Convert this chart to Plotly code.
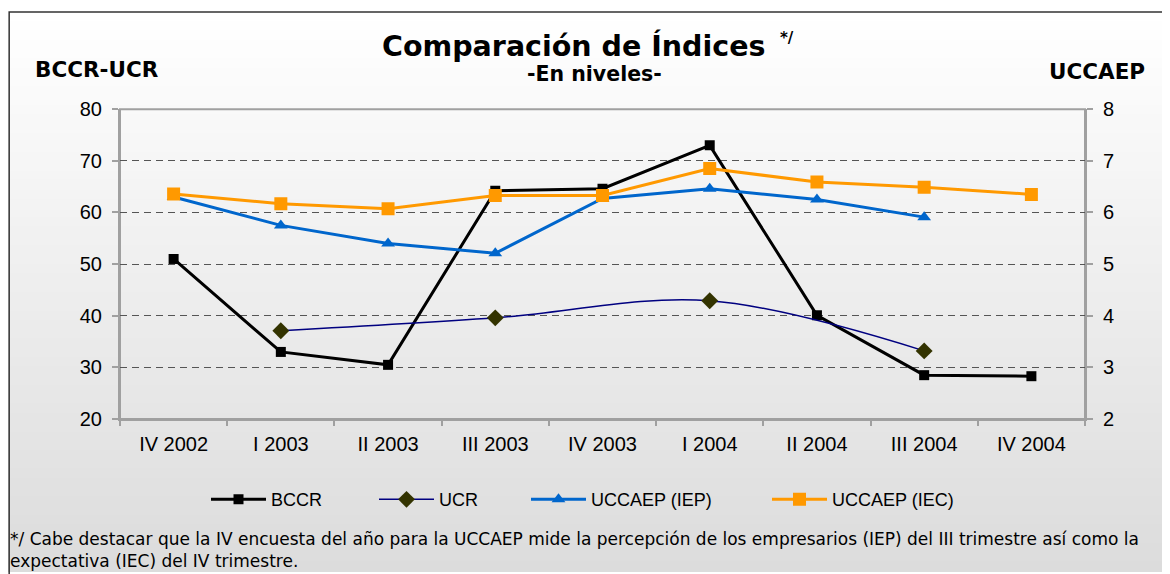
import plotly.graph_objects as go

categories = ["IV 2002", "I 2003", "II 2003", "III 2003", "IV 2003",
              "I 2004", "II 2004", "III 2004", "IV 2004"]
bccr = [51.0, 33.0, 30.5, 64.2, 64.6, 73.0, 40.1, 28.5, 28.3]
ucr = [None, 37.1, None, 39.6, None, 42.9, None, 33.2, None]
uccaep_iep = [6.30, 5.75, 5.40, 5.21, 6.27, 6.46, 6.25, 5.91, None]
uccaep_iec = [6.36, 6.17, 6.07, 6.33, 6.33, 6.85, 6.59, 6.49, 6.35]
left_ticks = [20, 30, 40, 50, 60, 70, 80]
right_ticks = [2, 3, 4, 5, 6, 7, 8]

W, H = 1170, 574
# empirical placement of the figure inside the photographed page
OX, OY, PH = 6, 17, 557


def px(x):
    return (x - OX) / W


def py(y):
    return 1 - (y - OY) / PH


X0, X1 = 118, 1083
Y0, Y1 = 108, 420.7

fig = go.Figure()

fig.add_trace(go.Scatter(x=categories, y=bccr, name="BCCR", mode="lines+markers",
                         legend="legend",
                         line=dict(color="black", width=3),
                         marker=dict(symbol="square", size=10, color="black")))
fig.add_trace(go.Scatter(x=categories, y=ucr, name="UCR", mode="lines+markers",
                         legend="legend2",
                         connectgaps=True, line=dict(color="#000080", width=1.5, shape="spline"),
                         marker=dict(symbol="diamond", size=13, color="#333300")))
fig.add_trace(go.Scatter(x=categories, y=uccaep_iep, name="UCCAEP (IEP)", mode="lines+markers",
                         legend="legend3",
                         yaxis="y2", line=dict(color="#0066CC", width=3),
                         marker=dict(symbol="triangle-up", size=12, color="#0066CC")))
fig.add_trace(go.Scatter(x=categories, y=uccaep_iec, name="UCCAEP (IEC)", mode="lines+markers",
                         legend="legend4",
                         yaxis="y2", line=dict(color="#FF9900", width=3),
                         marker=dict(symbol="square", size=13, color="#FF9900")))

# background gradient bands
shapes = []
n = 60
top, bot = 10, H
for i in range(n):
    ya = top + (bot - top) * i / n
    yb = top + (bot - top) * (i + 1) / n + 1
    t = i / (n - 1)
    c = int(round(255 - t * (255 - 220)))
    shapes.append(dict(type="rect", xref="paper", yref="paper",
                       x0=max(px(5), 0), x1=px(1168), y0=py(yb), y1=py(ya),
                       fillcolor=f"rgb({c},{c},{c})", line=dict(width=0), layer="below"))
# outer border
shapes.append(dict(type="rect", xref="paper", yref="paper",
                   x0=max(px(6), 0.001), x1=px(1168), y0=-0.01, y1=py(10),
                   line=dict(color="#333333", width=1.5), layer="above"))
# plot area border
shapes.append(dict(type="rect", xref="paper", yref="paper",
                   x0=px(X0), x1=px(X1), y0=py(Y1), y1=py(Y0),
                   line=dict(color="#a0a0a0", width=2), layer="below"))


def legend_at(text_start):
    return dict(orientation="h", x=px(text_start - 69), xanchor="left",
                y=py(502), yanchor="middle", itemwidth=55,
                font=dict(family="Liberation Sans, Arial", size=18, color="black"),
                bgcolor="rgba(0,0,0,0)")


font_axis = dict(family="Liberation Sans, Arial", size=20, color="black")
fig.update_layout(
    width=W, height=H,
    margin=dict(l=0, r=0, t=0, b=0),
    paper_bgcolor="white",
    plot_bgcolor="rgba(0,0,0,0)",
    shapes=shapes,
    showlegend=True,
    legend=legend_at(273),
    legend2=legend_at(441),
    legend3=legend_at(593),
    legend4=legend_at(834),
    xaxis=dict(domain=[px(X0), px(X1)], type="category", range=[-0.5, 8.5],
               showgrid=False, showline=True, linecolor="#a0a0a0", linewidth=2,
               ticks="outside", ticklen=5, tickcolor="#a0a0a0", tickwidth=1.5,
               tickson="boundaries", tickfont=font_axis, ticklabelstandoff=6, anchor="y"),
    yaxis=dict(domain=[py(Y1), py(Y0)], range=[20, 80], tickvals=left_ticks,
               showgrid=True, gridcolor="#555555", griddash="7px,5px", gridwidth=1.2,
               showline=True, linecolor="#a0a0a0", linewidth=2,
               ticks="outside", ticklen=6, tickcolor="#a0a0a0", tickwidth=1.5,
               tickfont=font_axis, ticklabelstandoff=6, zeroline=False, anchor="x"),
    yaxis2=dict(overlaying="y", side="right", range=[2, 8], tickvals=right_ticks,
                showgrid=False, showline=True, linecolor="#a0a0a0", linewidth=2,
                ticks="outside", ticklen=6, tickcolor="#a0a0a0", tickwidth=1.5,
                tickfont=font_axis, ticklabelstandoff=6, zeroline=False, anchor="x"),
)

bold = "DejaVu Sans, Verdana"
fig.add_annotation(text="<b>Comparación de Índices</b>", x=px(571), y=py(44),
                   xref="paper", yref="paper", showarrow=False,
                   font=dict(family=bold, size=28.5, color="black"),
                   xanchor="center", yanchor="middle")
fig.add_annotation(text="<b>*/</b>", x=px(776), y=py(36), xref="paper", yref="paper",
                   showarrow=False, font=dict(family=bold, size=15, color="black"),
                   xanchor="left", yanchor="middle")
fig.add_annotation(text="<b>-En niveles-</b>", x=px(592), y=py(72),
                   xref="paper", yref="paper", showarrow=False,
                   font=dict(family=bold, size=20.5, color="black"),
                   xanchor="center", yanchor="middle")
fig.add_annotation(text="<b>BCCR-UCR</b>", x=px(31), y=py(68),
                   xref="paper", yref="paper", showarrow=False,
                   font=dict(family=bold, size=21.5, color="black"),
                   xanchor="left", yanchor="middle")
fig.add_annotation(text="<b>UCCAEP</b>", x=px(1045), y=py(70),
                   xref="paper", yref="paper", showarrow=False,
                   font=dict(family=bold, size=21.5, color="black"),
                   xanchor="left", yanchor="middle")
fig.add_annotation(text="*/ Cabe destacar que la IV encuesta del año para la UCCAEP mide la percepción de los empresarios (IEP) del III trimestre así como la<br>expectativa (IEC) del IV trimestre.",
                   x=px(6), y=py(530), xref="paper", yref="paper", showarrow=False,
                   align="left", xanchor="left", yanchor="top",
                   font=dict(family="DejaVu Sans", size=17, color="black"))

fig.write_html("out.html")
